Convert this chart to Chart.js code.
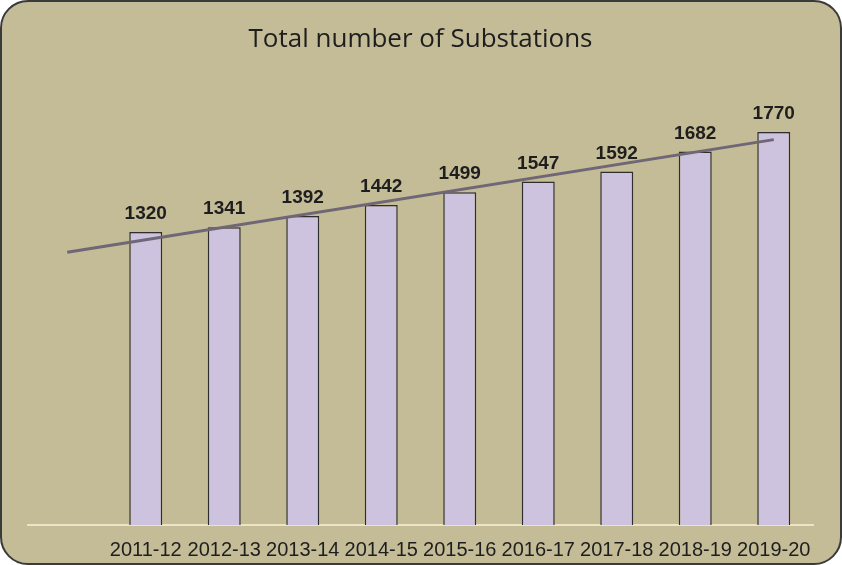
<!DOCTYPE html>
<html>
<head>
<meta charset="utf-8">
<script src="https://cdn.jsdelivr.net/npm/chart.js@4.4.0/dist/chart.umd.min.js"></script>
<style>
  html, body { margin: 0; padding: 0; background: #ffffff; }
  #wrap {
    position: absolute; left: 0; top: 0;
    width: 842px; height: 565px;
    box-sizing: border-box;
    border: 2px solid #3a3a3a;
    border-radius: 28px;
    background: #c4bb97;
    overflow: hidden;
  }
  #chart { display: block; }
</style>
</head>
<body>
<div id="wrap"><canvas id="chart" width="838" height="561"></canvas></div>
<script>
// first slot is an empty category, as in the original sheet
const years = ['', '2011-12', '2012-13', '2013-14', '2014-15', '2015-16', '2016-17', '2017-18', '2018-19', '2019-20']
const substations = [null, 1320, 1341, 1392, 1442, 1499, 1547, 1592, 1682, 1770]
// trend line ends
const trend = [1229, null, null, null, null, null, null, null, null, 1736]

//- value labels above the bars -
const valueLabels = {
    id: 'valueLabels',
    afterDatasetsDraw(chart) {
        const ctx = chart.ctx
        const meta = chart.getDatasetMeta(1)
        ctx.save()
        ctx.font = 'bold 19px "Liberation Sans", Arial, sans-serif'
        ctx.fillStyle = '#1e1e1e'
        ctx.textAlign = 'center'
        ctx.textBaseline = 'alphabetic'
        meta.data.forEach((bar, i) => {
            if (substations[i] === null) return
            ctx.fillText(substations[i], bar.x, bar.y - 13)
        })
        ctx.restore()
    }
}

const chartCanvas = document.getElementById('chart').getContext('2d')
new Chart(chartCanvas, {
    data: {
        labels: years,
        datasets: [
            {
                type: 'line',
                data: trend,
                spanGaps: true,
                borderColor: '#6f6676',
                borderWidth: 3,
                pointRadius: 0,
                order: 0
            },
            {
                type: 'bar',
                data: substations,
                backgroundColor: '#cdc3df',
                borderColor: '#2e2e2e',
                borderWidth: 1.5,
                barPercentage: 0.42,
                categoryPercentage: 1.0,
                order: 1
            }
        ]
    },
    options: {
        responsive: false,
        animation: false,
        layout: { padding: { left: 26, right: 27, top: 22, bottom: 0 } },
        plugins: {
            legend: { display: false },
            tooltip: { enabled: false },
            title: {
                display: true,
                text: 'Total number of Substations',
                color: '#1e1e1e',
                font: { family: '"Open Sans", "Noto Sans", sans-serif', size: 26, weight: 'normal', lineHeight: 1.2 },
                padding: { top: 0, bottom: 25.8 },
                position: 'top',
                fullSize: true
            }
        },
        scales: {
            x: {
                grid: { display: false },
                border: { display: true, color: '#ece4c4', width: 2 },
                ticks: {
                    color: '#1e1e1e',
                    font: { family: '"Liberation Sans", Arial, sans-serif', size: 20 },
                    padding: 5,
                    maxRotation: 0,
                    autoSkip: false
                },
                afterFit(scale) { scale.height = 38 }
            },
            y: {
                display: false,
                min: 0,
                max: 2000
            }
        }
    },
    plugins: [valueLabels]
})
</script>
</body>
</html>
